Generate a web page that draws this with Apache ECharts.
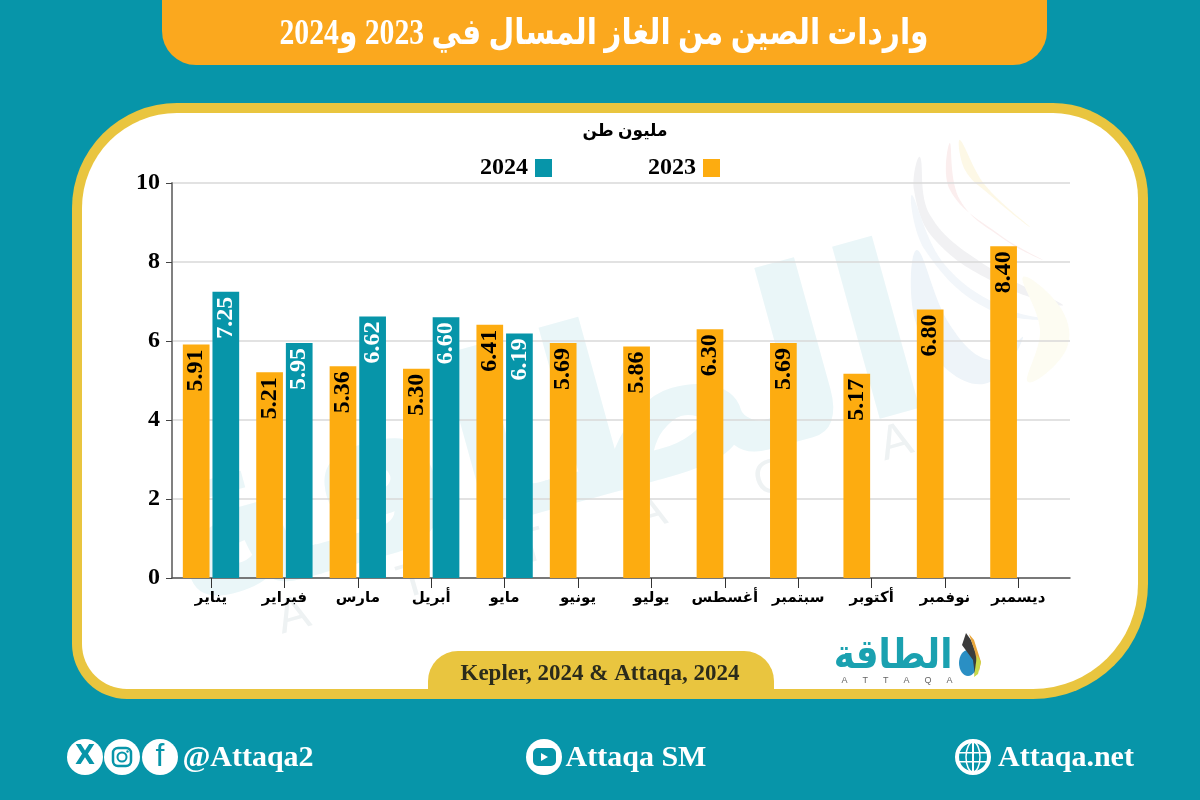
<!DOCTYPE html>
<html><head><meta charset="utf-8">
<style>html,body{margin:0;padding:0;background:#0795a9}#c{width:1200px;height:800px}</style>
<script src="https://cdn.jsdelivr.net/npm/echarts@6/dist/echarts.min.js"></script>
</head><body><div id="c"></div>
<script>
const months = ['يناير','فبراير','مارس','أبريل','مايو','يونيو','يوليو','أغسطس','سبتمبر','أكتوبر','نوفمبر','ديسمبر'];
// Bar heights as drawn. June and September are drawn near 5.95 although printed as 5.69.
const bars2023 = [5.91,5.21,5.36,5.30,6.41,5.95,5.86,6.30,5.95,5.17,6.80,8.40];
const bars2024 = [7.25,5.95,6.62,6.60,6.19,null,null,null,null,null,null,null];
// Values as printed on the bars.
const labels2023 = ['5.91','5.21','5.36','5.30','6.41','5.69','5.86','6.30','5.69','5.17','6.80','8.40'];
const labels2024 = ['7.25','5.95','6.62','6.60','6.19','','','','','','',''];
const yTicks = [0,2,4,6,8,10];
const titleText = 'واردات الصين من الغاز المسال في 2023 و2024';
const unitText = 'مليون طن';
const sourceText = 'Kepler, 2024 & Attaqa, 2024';

const SERIF = '"Liberation Serif","DejaVu Serif",serif';
const ARABIC = '"Liberation Serif","DejaVu Sans",sans-serif';
const TEAL='#0795a9', ORANGE='#fdac10', GOLD='#e9c53f', WM='#eaf6f8';

function txt(x,y,s,size,fill,extra){
  return Object.assign({type:'text',x,y,style:{text:s,fill,font:'bold '+size+'px '+SERIF,align:'center',verticalAlign:'middle'}},extra||{});
}
function circ(cx,cy,r,fill,stroke,lw){
  return {type:'circle',shape:{cx,cy,r},style:{fill:fill||'none',stroke:stroke||null,lineWidth:lw||0}};
}
function pale(points,fill){ return {type:'polygon',shape:{points,smooth:0.4},style:{fill}}; }

const deco = [
  {type:'rect',shape:{x:72,y:103,width:1076,height:596,r:[105,95,115,55]},style:{fill:GOLD}},
  {type:'rect',shape:{x:82,y:113,width:1056,height:576,r:[95,85,105,45]},style:{fill:'#fff'}},
  // watermark
  {type:'text',x:545,y:448,rotation:0.27,style:{text:'الطاقة',fill:WM,font:'bold 235px "DejaVu Sans",sans-serif',align:'center',verticalAlign:'middle'}},
  {type:'text',x:595,y:530,rotation:0.28,style:{text:'A       T       T       A       Q       A',fill:'#eef2f3',font:'48px "Liberation Sans",sans-serif',align:'center',verticalAlign:'middle'}},
  pale([[920,157],[930,215],[985,265],[1063,305],[1000,285],[935,240],[914,190]],'#f1f1f3'),
  pale([[912,195],[945,265],[1010,310],[1063,320],[990,310],[925,250]],'#f2f6fa'),
  pale([[950,143],[960,200],[1005,240],[1043,260],[1000,235],[950,190]],'#fbeeee'),
  pale([[960,140],[985,185],[1030,227],[990,195],[965,170]],'#fdf8e6'),
  pale([[917,250],[915,320],[950,372],[990,382],[1023,337],[990,360],[950,325]],'#eef4f9'),
  pale([[1023,277],[1062,310],[1066,350],[1028,382],[1040,330]],'#fdfcf2'),
  // banner and source tab
  {type:'rect',shape:{x:162,y:-50,width:885,height:115,r:34},style:{fill:'#fba81e'}},
  {type:'rect',shape:{x:428,y:651,width:346,height:48,r:[30,30,0,0]},style:{fill:GOLD}},
  // social icons
  circ(85,757,18,'#fff'),circ(122,757,18,'#fff'),circ(160,757,18,'#fff'),
  circ(544,757,18,'#fff'),
  {type:'rect',shape:{x:533,y:748,width:23,height:18,r:5},style:{fill:TEAL}},
  circ(973,757,16,TEAL,'#fff',4),
  {type:'ellipse',shape:{cx:973,cy:757,rx:7,ry:15},style:{fill:'none',stroke:'#fff',lineWidth:1.5}},
  {type:'rect',shape:{x:972,y:742,width:2,height:30},style:{fill:'#fff'}},
  {type:'rect',shape:{x:958,y:752,width:30,height:1.5},style:{fill:'#fff'}},
  {type:'rect',shape:{x:958,y:761,width:30,height:1.5},style:{fill:'#fff'}},
  {type:'rect',shape:{x:113,y:748,width:18,height:18,r:5},style:{fill:'none',stroke:TEAL,lineWidth:2.5}},
  circ(122,757,4.5,'none',TEAL,2),
  circ(127.5,751.5,1.2,TEAL),
  {type:'polygon',shape:{points:[[541,753],[541,761],[548,757]]},style:{fill:'#fff'}},
  {type:'text',x:85,y:757,style:{text:'X',fill:TEAL,font:'bold 26px "DejaVu Sans",sans-serif',align:'center',verticalAlign:'middle'}},
  {type:'text',x:160,y:757,style:{text:'f',fill:TEAL,font:'32px "Liberation Sans",sans-serif',align:'center',verticalAlign:'middle'}},
  // texts
  {type:'text',x:604,y:35,scaleX:0.825,style:{text:titleText,fill:'#fff',font:'bold 36px '+ARABIC,align:'center',verticalAlign:'middle'}},
  {type:'text',x:625,y:132,style:{text:unitText,fill:'#000',font:'bold 17px '+ARABIC,align:'center',verticalAlign:'middle'}},
  txt(600,674,sourceText,23,'#2b2b1b'),
  txt(248,758,'@Attaqa2',30,'#fff'),
  txt(636,758,'Attaqa SM',30,'#fff'),
  txt(1066,758,'Attaqa.net',30,'#fff'),
  // logo
  {type:'text',x:893,y:657,scaleX:0.87,style:{text:'الطاقة',fill:'#1aa1b0',font:'bold 41px "DejaVu Sans",sans-serif',align:'center',verticalAlign:'middle'}},
  {type:'text',x:897,y:681,style:{text:'A      T      T      A      Q      A',fill:'#666',font:'9px "Liberation Sans",sans-serif',align:'center',verticalAlign:'middle'}},
  {type:'ellipse',shape:{cx:968,cy:663,rx:9,ry:13},style:{fill:'#2a8fc4'}},
  {type:'polygon',shape:{points:[[966,633],[971,640],[980,664],[975,676],[973,660],[962,645]]},style:{fill:'#3c3c3c'}},
  {type:'polygon',shape:{points:[[969,634],[974,640],[981,662],[979,671],[975,652]]},style:{fill:'#e8a63c'}},
  {type:'polygon',shape:{points:[[977,655],[981,662],[978,674],[974,677]]},style:{fill:'#c9d94a'}}
];
deco.forEach(g=>{g.z=-10;g.silent=true;});

const chart = echarts.init(document.getElementById('c'));
const lbl = (arr,color)=>({show:true,position:'insideTop',rotate:90,align:'right',verticalAlign:'middle',distance:5,
  color,fontFamily:SERIF,fontWeight:'bold',fontSize:24,
  formatter:p=>arr[p.dataIndex]});
chart.setOption({
  animation:false,
  backgroundColor:TEAL,
  textStyle:{fontFamily:SERIF},
  graphic:deco,
  legend:{data:['2024','2023'],left:475,top:151,align:'right',itemWidth:17,itemHeight:18,itemGap:96,
    icon:'rect',selectedMode:false,
    textStyle:{fontFamily:SERIF,fontWeight:'bold',fontSize:24,color:'#000',padding:[0,2,0,0]}},
  grid:[
    {left:172,width:898,top:183,height:395,containLabel:false},
    {left:174.3,width:880.8,top:183,height:395,containLabel:false}
  ],
  xAxis:[
    {type:'value',gridIndex:0,min:0,max:1,axisLabel:{show:false},axisTick:{show:false},splitLine:{show:false},
      axisLine:{show:true,lineStyle:{color:'#555',width:1.5}}},
    {type:'category',gridIndex:1,data:months,axisLine:{show:false},
      axisTick:{show:true,alignWithLabel:true,length:10,lineStyle:{color:'#333',width:1}},
      axisLabel:{interval:0,margin:13,color:'#000',fontFamily:ARABIC,fontSize:15,fontWeight:'bold'}}
  ],
  yAxis:[
    {type:'value',gridIndex:0,min:0,max:10,interval:2,
      axisLine:{show:true,lineStyle:{color:'#808080',width:2}},
      axisTick:{show:true,length:6,lineStyle:{color:'#444',width:1}},
      axisLabel:{margin:12,padding:[3,0,0,0],color:'#000',fontFamily:SERIF,fontWeight:'bold',fontSize:24,formatter:v=>yTicks.includes(v)?String(v):''},
      splitLine:{show:true,lineStyle:{color:'#d9d9d9',width:1.5}}},
    {type:'value',gridIndex:1,min:0,max:10,interval:2,show:false,splitLine:{show:false}}
  ],
  series:[
    {name:'2023',type:'bar',xAxisIndex:1,yAxisIndex:1,data:bars2023,barWidth:26.7,barGap:'11%',
      itemStyle:{color:ORANGE},label:lbl(labels2023,'#000')},
    {name:'2024',type:'bar',xAxisIndex:1,yAxisIndex:1,data:bars2024,barWidth:26.7,barGap:'11%',
      itemStyle:{color:TEAL},label:lbl(labels2024,'#fff')}
  ]
});
</script></body></html>
